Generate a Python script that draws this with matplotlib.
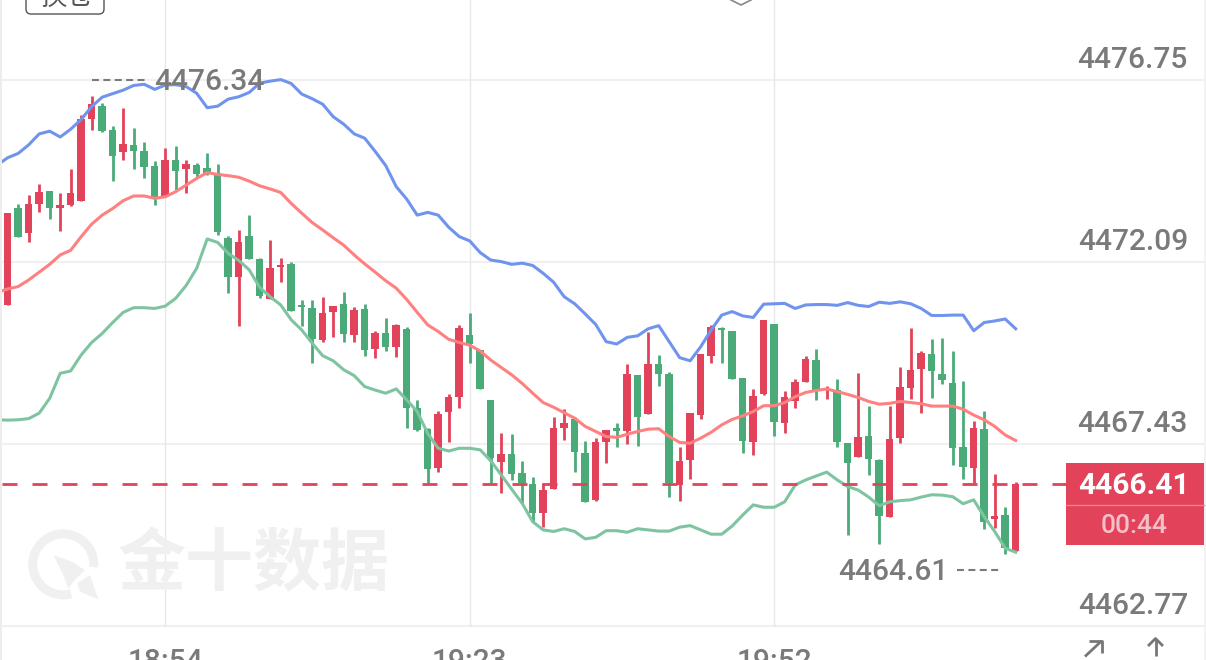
import numpy as np
from matplotlib import pyplot as plt
from matplotlib.patches import FancyBboxPatch, Polygon, Rectangle, Wedge

plt.rcParams['lines.scale_dashes'] = False

# prices are stored minus 4400 to keep the lists short
base = 4400

opens = [70.99, 73.46, 72.84, 73.58, 73.91, 73.46, 73.56, 73.66, 75.75, 76.08,
         75.47, 74.91, 75.09, 74.94, 74.55, 73.78, 74.70, 74.46, 74.57, 74.49,
         74.36, 72.70, 71.70, 72.76, 72.16, 71.15, 71.97, 72.04, 71.00, 70.90,
         70.09, 70.82, 71.02, 70.22, 70.88, 69.86, 70.28, 69.91, 70.38, 68.36,
         67.81, 66.81, 68.24, 68.64, 70.21, 69.84, 68.55, 66.98, 67.18, 66.68,
         66.40, 65.66, 66.28, 67.85, 68.06, 67.19, 66.00, 67.47, 67.83, 67.75,
         69.19, 68.20, 69.48, 69.22, 66.38, 67.02, 68.17, 69.69, 70.40, 70.33,
         69.11, 67.47, 68.70, 70.51, 67.97, 68.53, 69.02, 69.58, 68.81, 68.81,
         67.45, 67.09, 67.64, 67.02, 65.57, 67.58, 68.87, 69.35, 69.74, 69.22,
         68.99, 67.36, 66.82, 67.82, 65.50, 65.61, 64.70]
closes = [73.34, 72.74, 73.58, 73.87, 73.46, 73.54, 73.86, 75.74, 76.13, 75.45,
          74.80, 75.11, 74.94, 74.52, 73.76, 74.70, 74.43, 74.60, 74.34, 74.38,
          72.85, 71.71, 72.60, 72.16, 71.22, 71.94, 72.01, 70.84, 70.93, 70.12,
          70.78, 70.96, 70.24, 70.86, 69.84, 70.28, 69.91, 70.47, 68.36, 67.79,
          66.79, 68.20, 68.63, 70.40, 69.98, 68.85, 67.06, 67.17, 66.66, 66.44,
          65.66, 66.25, 67.85, 67.98, 67.22, 65.95, 67.49, 67.79, 67.75, 69.21,
          68.11, 69.48, 69.21, 66.42, 67.00, 68.22, 69.73, 70.42, 70.35, 69.10,
          67.51, 68.66, 70.61, 67.99, 68.63, 69.01, 69.60, 68.80, 68.84, 67.47,
          66.94, 67.60, 67.04, 65.59, 67.55, 68.88, 69.32, 69.77, 69.30, 69.07,
          67.34, 66.83, 67.83, 65.42, 65.59, 64.76, 66.41]
highs = [73.34, 73.57, 73.81, 74.08, 73.91, 73.85, 74.47, 75.85, 76.34, 76.15,
         75.57, 76.02, 75.51, 75.15, 74.68, 75.00, 75.07, 74.70, 74.62, 74.87,
         74.59, 72.76, 72.90, 73.29, 72.18, 72.65, 72.20, 72.09, 71.12, 71.12,
         71.20, 70.96, 71.31, 70.93, 71.02, 70.32, 70.65, 70.51, 70.42, 68.56,
         67.83, 68.28, 68.71, 70.47, 70.78, 69.84, 68.55, 67.70, 67.68, 67.00,
         66.58, 66.42, 68.13, 68.33, 68.13, 67.51, 67.59, 67.79, 67.96, 69.48,
         69.20, 70.31, 69.71, 69.27, 67.35, 68.23, 69.73, 70.48, 70.42, 70.33,
         69.13, 68.84, 70.61, 70.51, 68.79, 69.10, 69.68, 69.86, 68.92, 69.10,
         67.45, 69.26, 68.40, 67.04, 68.39, 69.39, 70.39, 69.80, 70.13, 70.14,
         69.80, 69.03, 68.01, 68.28, 66.65, 65.81, 66.45]
lows = [70.99, 72.74, 72.59, 73.38, 73.18, 72.89, 73.52, 73.65, 75.47, 75.43,
        74.16, 74.70, 74.46, 74.23, 73.54, 73.76, 73.93, 73.85, 74.23, 74.32,
        72.78, 71.30, 70.46, 72.16, 71.18, 71.13, 71.58, 70.84, 70.45, 69.50,
        70.05, 70.18, 70.05, 70.05, 69.68, 69.64, 69.82, 69.67, 67.85, 67.77,
        66.42, 66.71, 67.48, 68.34, 69.50, 68.84, 66.42, 66.17, 66.51, 65.91,
        65.44, 65.30, 66.27, 67.52, 66.72, 65.94, 65.98, 66.94, 67.36, 67.42,
        67.39, 68.20, 68.92, 66.07, 65.98, 66.54, 68.07, 69.51, 69.50, 69.10,
        67.19, 67.16, 68.69, 67.64, 67.70, 68.34, 69.01, 68.56, 68.59, 67.36,
        65.10, 67.09, 66.64, 64.87, 65.57, 67.45, 68.59, 68.23, 68.60, 68.97,
        66.89, 66.54, 66.42, 65.25, 65.29, 64.61, 64.70]

# bands start one minute before the first visible candle
upper_band = [74.57, 74.76, 74.87, 75.09, 75.37, 75.44, 75.29, 75.49, 75.74, 76.07,
              76.31, 76.40, 76.49, 76.61, 76.64, 76.51, 76.62, 76.63, 76.58, 76.41,
              76.04, 76.08, 76.26, 76.32, 76.43, 76.67, 76.72, 76.76, 76.66, 76.39,
              76.27, 76.13, 75.81, 75.62, 75.37, 75.26, 74.92, 74.56, 74.02, 73.70,
              73.29, 73.36, 73.29, 72.98, 72.74, 72.63, 72.33, 72.14, 72.10, 72.03,
              72.06, 72.00, 71.80, 71.57, 71.20, 71.02, 70.76, 70.49, 70.05, 69.99,
              70.16, 70.20, 70.38, 70.46, 70.05, 69.64, 69.56, 69.92, 70.35, 70.73,
              70.82, 70.71, 70.67, 71.01, 71.02, 71.03, 70.90, 70.99, 71.00, 71.00,
              70.98, 71.05, 70.98, 70.95, 71.06, 71.03, 71.07, 71.02, 70.90, 70.72,
              70.72, 70.73, 70.73, 70.33, 70.54, 70.58, 70.63, 70.38]
mid_band = [71.31, 71.40, 71.46, 71.63, 71.83, 72.03, 72.27, 72.39, 72.74, 73.06,
            73.29, 73.46, 73.66, 73.78, 73.78, 73.72, 73.76, 73.89, 74.06, 74.23,
            74.38, 74.33, 74.30, 74.26, 74.16, 74.04, 73.96, 73.87, 73.59, 73.34,
            73.10, 72.91, 72.71, 72.52, 72.27, 72.04, 71.83, 71.61, 71.42, 71.13,
            70.80, 70.48, 70.31, 70.11, 70.03, 69.96, 69.81, 69.58, 69.39, 69.20,
            68.98, 68.73, 68.49, 68.37, 68.23, 68.09, 67.88, 67.75, 67.62, 67.60,
            67.68, 67.75, 67.81, 67.82, 67.62, 67.47, 67.45, 67.58, 67.73, 67.92,
            68.06, 68.15, 68.26, 68.41, 68.41, 68.49, 68.64, 68.75, 68.80, 68.84,
            68.77, 68.70, 68.62, 68.52, 68.45, 68.47, 68.52, 68.49, 68.46, 68.40,
            68.40, 68.40, 68.32, 68.17, 68.05, 67.88, 67.66, 67.52]
lower_band = [68.05, 68.04, 68.05, 68.08, 68.22, 68.60, 69.24, 69.30, 69.71, 70.03,
              70.26, 70.54, 70.80, 70.92, 70.92, 70.90, 70.96, 71.16, 71.49, 71.93,
              72.68, 72.59, 72.31, 72.13, 71.89, 71.44, 71.20, 70.99, 70.61, 70.35,
              70.01, 69.69, 69.56, 69.33, 69.18, 68.90, 68.81, 68.73, 68.84, 68.56,
              68.26, 67.70, 67.32, 67.25, 67.32, 67.32, 67.28, 67.00, 66.64, 66.27,
              65.91, 65.44, 65.23, 65.19, 65.26, 65.19, 65.00, 65.04, 65.21, 65.21,
              65.17, 65.26, 65.23, 65.20, 65.20, 65.30, 65.34, 65.23, 65.12, 65.12,
              65.33, 65.61, 65.87, 65.81, 65.81, 65.95, 66.38, 66.51, 66.61, 66.71,
              66.51, 66.34, 66.25, 66.07, 65.85, 65.95, 65.98, 66.00, 66.07, 66.13,
              66.12, 66.08, 65.90, 66.00, 65.57, 65.19, 64.76, 64.66]

y_ticks = [4476.75, 4472.09, 4467.43, 4462.77]
y_labels = ['4476.75', '4472.09', '4467.43', '4462.77']
x_ticks = [15, 44, 73]
x_labels = ['18:54', '19:23', '19:52']
last_price = 4466.41
high_price = '4476.34'
low_price = '4464.61'
countdown = '00:44'

RED = '#E2425A'
GREEN = '#4BAB78'
GREY = '#7A7A7A'
FONT = 'Roboto'
SIZE = 21.5

opens = base + np.array(opens)
closes = base + np.array(closes)
highs = base + np.array(highs)
lows = base + np.array(lows)
x = np.arange(len(opens))
band_x = np.arange(-1, len(opens))
colors = [RED if c >= o else GREEN for o, c in zip(opens, closes)]

fig = plt.figure(figsize=(12.06, 6.6), dpi=100)
fig.patch.set_facecolor('white')

# main axes fills the whole picture, one minute = 10.5 px, 4.66 = 182 px
ax = fig.add_axes([0, 0, 1, 1])
ax.set_xlim(-7.7 / 10.5, (1206 - 7.7) / 10.5)
ax.set_ylim(4478.798 - 660 * 4.66 / 182, 4478.798)
ax.axis('off')

# overlay in pixels for the app furniture
ui = fig.add_axes([0, 0, 1, 1], zorder=3)
ui.set_xlim(0, 1206)
ui.set_ylim(660, 0)
ui.axis('off')
ui.patch.set_alpha(0)

for price in y_ticks:
    ax.plot([-0.55, 113.9], [price, price], color='#F0F0F0', lw=1.5, zorder=1)
for tick in x_ticks:
    ax.plot([tick, tick], [y_ticks[-1], 4479], color='#E8E8E8', lw=1, zorder=1)
ui.add_patch(Rectangle((0, 0), 2, 660, color='#EDEDED', lw=0))
ui.add_patch(Rectangle((1204, 0), 2, 660, color='#F2F2F2', lw=0))

ax.vlines(x, lows, highs, colors=colors, lw=2, zorder=2)
ax.bar(x, np.abs(closes - opens), bottom=np.minimum(opens, closes), width=0.72,
       color=colors, zorder=2)

ax.plot(band_x, base + np.array(upper_band), color='#7094EE', lw=2.2, zorder=3)
ax.plot(band_x, base + np.array(mid_band), color='#FF8080', lw=2.2, zorder=3)
ax.plot(band_x, base + np.array(lower_band), color='#7FC4A0', lw=2.2, zorder=3)

ax.plot([-0.5, 100.8], [last_price, last_price], color=RED, lw=2,
        dashes=(10.8, 10.8), dash_capstyle='butt', zorder=4)

for price, label in zip(y_ticks, y_labels):
    ax.annotate(label, (1188 / 1206, price), xycoords=('axes fraction', 'data'),
                xytext=(0, 14.6), textcoords='offset points', ha='right', va='center',
                color=GREY, fontsize=SIZE, family=FONT, weight='medium')
for tick, label in zip(x_ticks, x_labels):
    ax.annotate(label, (tick, 0), xycoords=('data', 'axes fraction'),
                xytext=(0, -1.5), textcoords='offset points', ha='center',
                va='center', color=GREY, fontsize=SIZE, family=FONT, weight='medium')

# high / low markers
ui.text(154, 82, high_price, ha='left', va='center', color=GREY, fontsize=SIZE, family=FONT, weight='medium')
ui.plot([92, 147], [80, 80], color=GREY, lw=1.5, dashes=(5, 3.2), dash_capstyle='butt')
ui.text(838, 572, low_price, ha='left', va='center', color=GREY, fontsize=SIZE, family=FONT, weight='medium')
ui.plot([957, 1000], [570, 570], color=GREY, lw=1.5, dashes=(5, 3.2), dash_capstyle='butt')

# last price badge
ui.add_patch(Rectangle((1066, 463), 138, 81.5, color=RED, lw=0))
ui.plot([1066, 1204], [505, 505], color='#EE8292', lw=1)
ui.text(1134, 486, '4466.41', ha='center', va='center', color='white', fontsize=SIZE,
        family=FONT, weight='bold')
ui.text(1134, 526, countdown, ha='center', va='center', color='#F6BFC8', fontsize=19, family=FONT, weight='medium')

# watermark
wm = '#F0F0F0'
ui.add_patch(Wedge((63.3, 564.4), 35, 75, 365, width=9, color=wm, lw=0))
ui.add_patch(Polygon([(53.3, 555), (71.7, 561.7), (85, 570), (75, 580), (68.3, 588.3), (63.3, 575)],
                     color=wm, lw=0))
ui.add_patch(Polygon([(90, 575), (98.3, 599.3), (80, 591.7), (77.3, 583.3)], color=wm, lw=0))
ui.text(254, 566, '金十数据', ha='center', va='center', color=wm, fontsize=49,
        family='Noto Sans CJK SC', weight='bold')

# top button and chevron, both cut by the picture edge
ui.add_patch(FancyBboxPatch((30, -20), 70, 30, boxstyle='round,pad=4,rounding_size=5',
                            fc='none', ec='#555555', lw=1))
ui.text(66, -3, '换仓', ha='center', va='center', color='#555555', fontsize=19,
        family='Noto Sans CJK SC')
ui.plot([731, 741, 751], [0, 5, 0], color='#888888', lw=1.2)

# arrows bottom right
arrow = dict(color='#777777', lw=2, solid_capstyle='butt')
ui.plot([1085, 1101.5], [656.5, 641], **arrow)
ui.plot([1089, 1101.5, 1101.5], [641, 641, 653], **arrow)
ui.plot([1155.5, 1155.5], [656, 638.5], **arrow)
ui.plot([1148, 1155.5, 1163], [646, 638.5, 646], **arrow)

fig.savefig('out.png', dpi=100)
